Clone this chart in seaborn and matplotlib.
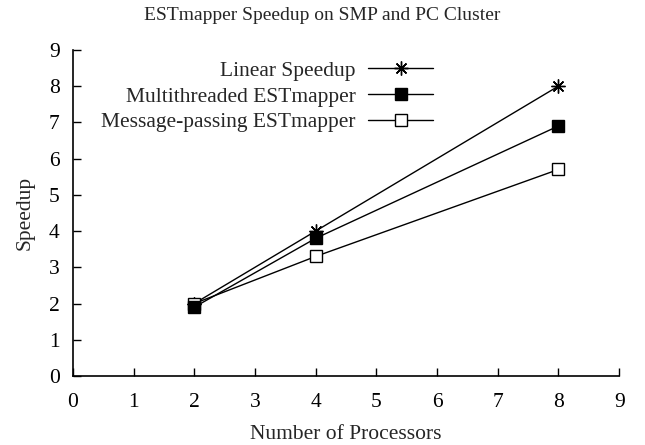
import matplotlib
matplotlib.use("Agg")
import matplotlib.pyplot as plt
import seaborn as sns
import pandas as pd

processors = [2, 4, 8]
linear = [2, 4, 8]
multithreaded = [1.9, 3.8, 6.9]
message_passing = [2.0, 3.3, 5.7]
series_names = ["Linear Speedup", "Multithreaded ESTmapper", "Message-passing ESTmapper"]

sns.set_theme(style="ticks")
plt.rcParams['font.family'] = ['Liberation Serif', 'DejaVu Serif']

df = pd.DataFrame({
    "Processors": processors * 3,
    "Speedup": linear + multithreaded + message_passing,
    "Series": [series_names[0]] * 3 + [series_names[1]] * 3 + [series_names[2]] * 3,
})

fig = plt.figure(figsize=(6.45, 4.45), dpi=100)
ax = fig.add_axes([0.113, 0.155, 0.847, 0.733])

styles = {
    series_names[0]: dict(marker=(8, 2, 0), markersize=10, markerfacecolor='black', markeredgewidth=1.0, zorder=2),
    series_names[1]: dict(marker='s', markersize=8.5, markerfacecolor='black', markeredgewidth=1.0, zorder=4),
    series_names[2]: dict(marker='s', markersize=8.5, markerfacecolor='white', markeredgewidth=1.0, zorder=3),
}
for name in series_names:
    sub = df[df["Series"] == name]
    sns.lineplot(data=sub, x="Processors", y="Speedup", ax=ax, color='black',
                 linewidth=1.0, label=name, markeredgecolor='black', **styles[name])

ax.set_xlim(0, 9)
ax.set_ylim(0, 9)
ax.set_xticks(range(0, 10))
ax.set_yticks(range(0, 10))
ax.tick_params(direction='in', length=6, width=1, labelsize=15.5, colors='black')
ax.tick_params(axis='x', pad=12.5)
ax.tick_params(axis='y', pad=9.5)
for s in ['top', 'right']:
    ax.spines[s].set_visible(False)
for s in ['left', 'bottom']:
    ax.spines[s].set_linewidth(1.2)
    ax.spines[s].set_color('black')
ax.set_xlabel("Number of Processors", fontsize=15.5, labelpad=9)
ax.set_ylabel("Speedup", fontsize=15.5, labelpad=10)
fig.suptitle("ESTmapper Speedup on SMP and PC Cluster", fontsize=14, x=0.5, y=0.985, va='top')

ax.legend(loc='upper right', bbox_to_anchor=(0.659, 0.967), frameon=False, markerfirst=False,
          handlelength=3.0, fontsize=15.5, labelspacing=0.27, handletextpad=0.6,
          borderpad=0, borderaxespad=0)
fig.savefig("out.png", dpi=100)
